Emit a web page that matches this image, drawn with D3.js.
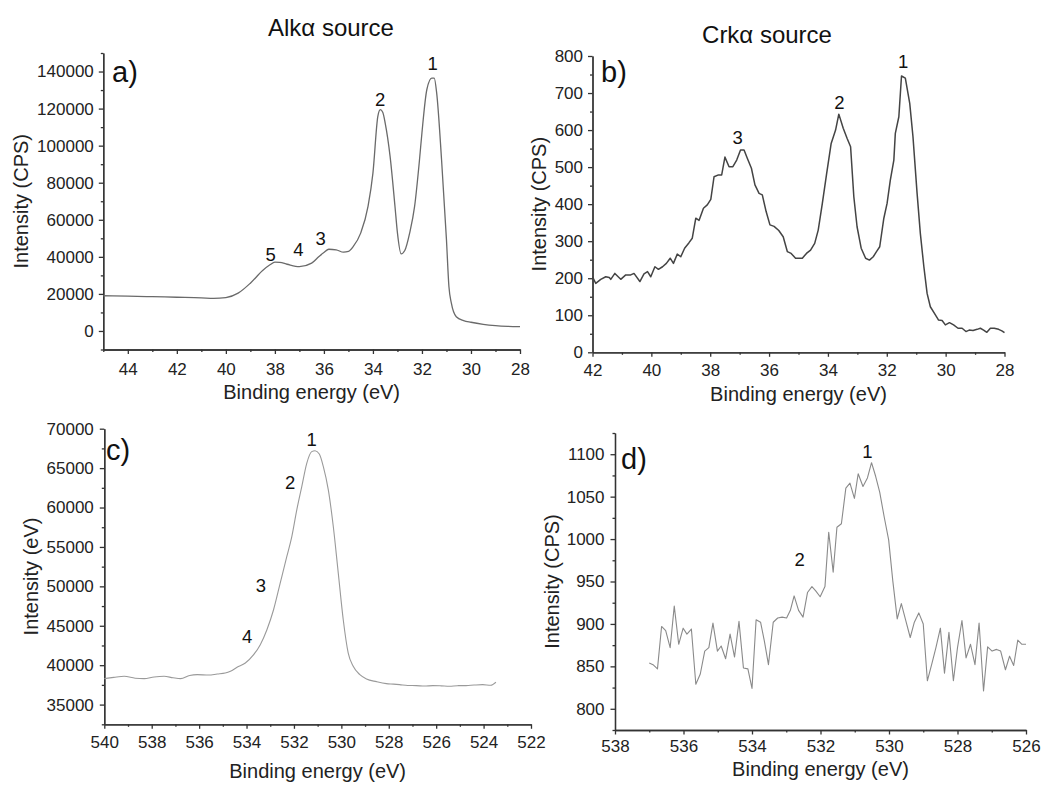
<!DOCTYPE html>
<html>
<head>
<meta charset="utf-8">
<script src="https://cdn.jsdelivr.net/npm/d3@7"></script>
<style>
  body { margin: 0; background: #fff; }
  svg { display: block; font-family: "Liberation Sans", Arial, sans-serif; }
  .axis path, .axis line { stroke: #333; stroke-width: 1.3; }
  .axis text { fill: #222; font-size: 17px; font-family: "Liberation Sans", Arial, sans-serif; }
</style>
</head>
<body>
<div id="chart"></div>
<script>
// Panel a) Alkα source
const aEnergy = [45, 44, 43, 42, 41, 40.5, 40, 39.5, 39, 38.5, 38.2, 38, 37.8, 37.5, 37, 36.5, 36.2, 36, 35.8, 35.5, 35.2, 35, 34.8, 34.5, 34.2, 34, 33.8, 33.7, 33.6, 33.5, 33.3, 33.1, 33, 32.85, 32.7, 32.5, 32.3, 32.1, 32, 31.8, 31.6, 31.5, 31.4, 31.2, 31, 30.9, 30.8, 30.6, 30.3, 30, 29.5, 29, 28.5, 28];
const aIntensity = [19000, 18800, 18500, 18200, 17900, 17600, 18000, 20400, 25800, 32600, 35700, 37100, 37000, 36000, 34700, 36600, 40200, 42300, 44100, 43800, 42500, 42900, 45600, 52800, 67200, 85200, 115800, 119400, 118000, 112200, 94200, 67200, 52900, 41600, 43400, 52900, 67200, 92400, 107000, 130300, 136400, 136400, 128500, 92400, 49200, 24000, 15000, 7700, 5600, 4700, 3600, 2900, 2500, 2300];
const aLabels = ["1", "2", "3", "4", "5"];
const aLabelEnergy = [31.56, 33.71, 36.13, 37.04, 38.17];
const aLabelIntensity = [140700, 121600, 46500, 40500, 37800];

// Panel b) Crkα source
const bEnergy = [42, 41.89, 41.72, 41.55, 41.43, 41.38, 41.24, 41.04, 40.87, 40.7, 40.59, 40.39, 40.25, 40.13, 40.02, 39.88, 39.76, 39.62, 39.49, 39.36, 39.25, 39.12, 39.0, 38.87, 38.72, 38.61, 38.49, 38.38, 38.23, 38.1, 37.98, 37.87, 37.72, 37.61, 37.5, 37.36, 37.23, 37.1, 36.97, 36.85, 36.74, 36.6, 36.48, 36.34, 36.23, 36.1, 35.97, 35.83, 35.67, 35.52, 35.38, 35.25, 35.1, 34.87, 34.73, 34.59, 34.45, 34.33, 34.19, 34.05, 33.89, 33.74, 33.63, 33.48, 33.35, 33.23, 33.12, 33.01, 32.87, 32.72, 32.59, 32.46, 32.35, 32.24, 32.1, 31.99, 31.88, 31.76, 31.71, 31.59, 31.5, 31.37, 31.22, 31.11, 30.97, 30.86, 30.74, 30.63, 30.52, 30.38, 30.24, 30.12, 30.01, 29.87, 29.73, 29.58, 29.44, 29.31, 29.2, 29.07, 28.93, 28.82, 28.71, 28.6, 28.48, 28.35, 28.2, 28.09, 28.0];
const bIntensity = [204, 186, 197, 204, 202, 197, 213, 197, 209, 209, 213, 191, 212, 218, 204, 231, 224, 231, 240, 254, 240, 265, 258, 281, 296, 308, 362, 356, 389, 398, 413, 474, 479, 479, 527, 501, 501, 519, 546, 546, 524, 497, 452, 429, 425, 380, 344, 340, 329, 312, 272, 267, 254, 254, 267, 276, 294, 330, 402, 479, 564, 600, 643, 605, 578, 555, 420, 339, 281, 254, 249, 258, 272, 285, 362, 402, 465, 519, 591, 636, 746, 740, 672, 582, 429, 321, 231, 159, 123, 105, 87, 86, 74, 80, 74, 65, 65, 56, 60, 59, 62, 65, 60, 54, 65, 65, 62, 58, 53];
const bLabels = ["1", "2", "3"];
const bLabelEnergy = [31.44, 33.61, 37.07];
const bLabelIntensity = [767, 657, 563];

// Panel c)
const cEnergy = [540, 539.6, 539.16, 538.7, 538.32, 537.9, 537.48, 537.1, 536.78, 536.4, 536.08, 535.6, 535.24, 534.9, 534.68, 534.4, 534.05, 533.7, 533.42, 533.14, 532.86, 532.58, 532.3, 532.09, 531.88, 531.67, 531.46, 531.25, 531.11, 530.93, 530.76, 530.55, 530.34, 530.13, 529.92, 529.71, 529.5, 529.22, 528.94, 528.52, 528.1, 527.8, 527.54, 527.2, 526.84, 526.5, 526.14, 525.8, 525.44, 525.1, 524.74, 524.4, 524.04, 523.7, 523.48];
const cIntensity = [38290, 38450, 38590, 38350, 38290, 38500, 38590, 38400, 38290, 38700, 38800, 38750, 38880, 39000, 39220, 39730, 40280, 41330, 42600, 44500, 47030, 50410, 53790, 56320, 59700, 62650, 65610, 67090, 67210, 66790, 65190, 62230, 57590, 51680, 45770, 41540, 39850, 38800, 38250, 37910, 37660, 37600, 37530, 37420, 37410, 37350, 37410, 37380, 37320, 37400, 37410, 37480, 37530, 37450, 37830];
const cLabels = ["1", "2", "3", "4"];
const cLabelEnergy = [531.25, 532.16, 533.39, 533.97];
const cLabelIntensity = [67800, 62350, 49240, 42770];

// Panel d)
const dEnergy = [537.0, 536.89, 536.76, 536.64, 536.52, 536.39, 536.27, 536.14, 536.01, 535.9, 535.77, 535.64, 535.51, 535.38, 535.26, 535.14, 535.01, 534.9, 534.77, 534.64, 534.51, 534.38, 534.25, 534.12, 534.0, 533.88, 533.75, 533.64, 533.52, 533.38, 533.25, 533.12, 532.99, 532.88, 532.77, 532.64, 532.51, 532.38, 532.25, 532.14, 532.01, 531.87, 531.76, 531.63, 531.52, 531.39, 531.26, 531.14, 531.01, 530.9, 530.76, 530.63, 530.51, 530.39, 530.27, 530.14, 530.01, 529.89, 529.76, 529.64, 529.51, 529.38, 529.26, 529.13, 529.0, 528.88, 528.75, 528.63, 528.5, 528.38, 528.25, 528.12, 528.0, 527.87, 527.75, 527.62, 527.49, 527.37, 527.24, 527.12, 526.99, 526.86, 526.74, 526.6, 526.48, 526.36, 526.24, 526.12, 526.0];
const dIntensity = [854, 852, 847, 897, 892, 872, 921, 876, 895, 888, 894, 829, 841, 868, 872, 901, 868, 874, 859, 888, 861, 903, 848, 847, 824, 905, 902, 880, 852, 902, 907, 908, 907, 916, 933, 916, 908, 937, 944, 939, 932, 944, 1008, 961, 1014, 1018, 1060, 1066, 1048, 1077, 1062, 1072, 1090, 1074, 1055, 1026, 999, 951, 906, 924, 904, 884, 902, 913, 900, 833, 853, 872, 895, 842, 890, 833, 872, 904, 860, 876, 852, 901, 821, 873, 868, 870, 868, 846, 862, 851, 881, 876, 876];
const dLabels = ["1", "2"];
const dLabelEnergy = [530.63, 532.61];
const dLabelIntensity = [1096, 968];

// Tick values
const aXTicks = [44, 42, 40, 38, 36, 34, 32, 30, 28];
const aYTicks = [0, 20000, 40000, 60000, 80000, 100000, 120000, 140000];
const bXTicks = [42, 40, 38, 36, 34, 32, 30, 28];
const bYTicks = [0, 100, 200, 300, 400, 500, 600, 700, 800];
const cXTicks = [540, 538, 536, 534, 532, 530, 528, 526, 524, 522];
const cYTicks = [35000, 40000, 45000, 50000, 55000, 60000, 65000, 70000];
const dXTicks = [538, 536, 534, 532, 530, 528, 526];
const dYTicks = [800, 850, 900, 950, 1000, 1050, 1100];

const svg = d3.select('#chart')
  .append('svg')
  .attr('width', 1056)
  .attr('height', 785);

svg.append('rect').attr('width', 1056).attr('height', 785).attr('fill', '#fff');

const panels = [
  {
    letter: 'a)', energy: aEnergy, intensity: aIntensity,
    labels: aLabels, labelE: aLabelEnergy, labelI: aLabelIntensity,
    xDomain: [45, 28], yDomain: [-10000, 150000], xTicks: aXTicks, yTicks: aYTicks,
    xMinorStep: 1, yMinorStep: 10000,
    left: 103.3, right: 520, top: 53, bottom: 349.5,
    color: '#6a6a6a', width: 1.3, curve: d3.curveMonotoneX,
    yLabel: 'Intensity (CPS)', yLabelX: 28, xLabelY: 399, xPad: 9, yPad: 5,
    title: 'Alkα source', titleX: 331, titleY: 36, letterX: 112, letterY: 82
  },
  {
    letter: 'b)', energy: bEnergy, intensity: bIntensity,
    labels: bLabels, labelE: bLabelEnergy, labelI: bLabelIntensity,
    xDomain: [42, 28], yDomain: [0, 800], xTicks: bXTicks, yTicks: bYTicks,
    xMinorStep: 1, yMinorStep: 50,
    left: 592.5, right: 1004.5, top: 56, bottom: 352.3,
    color: '#444', width: 1.5, curve: d3.curveLinear,
    yLabel: 'Intensity (CPS)', yLabelX: 546, xLabelY: 401, xPad: 7, yPad: 5,
    title: 'Crkα source', titleX: 767, titleY: 43, letterX: 601, letterY: 82
  },
  {
    letter: 'c)', energy: cEnergy, intensity: cIntensity,
    labels: cLabels, labelE: cLabelEnergy, labelI: cLabelIntensity,
    xDomain: [540, 522], yDomain: [32500, 70000], xTicks: cXTicks, yTicks: cYTicks,
    xMinorStep: 1, yMinorStep: 2500,
    left: 104.3, right: 531, top: 428.7, bottom: 724.3,
    color: '#9a9a9a', width: 1.1, curve: d3.curveMonotoneX,
    yLabel: 'Intensity (eV)', yLabelX: 38, xLabelY: 778, xPad: 7, yPad: 6,
    title: null, letterX: 106, letterY: 460
  },
  {
    letter: 'd)', energy: dEnergy, intensity: dIntensity,
    labels: dLabels, labelE: dLabelEnergy, labelI: dLabelIntensity,
    xDomain: [538, 526], yDomain: [775, 1125], xTicks: dXTicks, yTicks: dYTicks,
    xMinorStep: 1, yMinorStep: 25,
    left: 615, right: 1026, top: 433, bottom: 730,
    color: '#8a8a8a', width: 1.1, curve: d3.curveLinear,
    yLabel: 'Intensity (CPS)', yLabelX: 559, xLabelY: 776, xPad: 5, yPad: 6,
    title: null, letterX: 621, letterY: 469
  }
];

panels.forEach(p => {
  const x = d3.scaleLinear().domain(p.xDomain).range([p.left, p.right]);
  const y = d3.scaleLinear().domain(p.yDomain).range([p.bottom, p.top]);

  // minor ticks
  const xLo = Math.min(...p.xDomain), xHi = Math.max(...p.xDomain);
  const xMinor = d3.range(Math.ceil(xLo), xHi + 0.001, p.xMinorStep).filter(v => !p.xTicks.includes(v));
  const yMinor = d3.range(p.yDomain[0], p.yDomain[1] + 0.001, p.yMinorStep).filter(v => !p.yTicks.includes(v));

  svg.append('g')
    .attr('class', 'axis')
    .attr('transform', `translate(0, ${p.bottom})`)
    .call(d3.axisBottom(x).tickValues(xMinor).tickSize(2.5).tickSizeOuter(0).tickFormat(''));

  svg.append('g')
    .attr('class', 'axis')
    .attr('transform', `translate(${p.left}, 0)`)
    .call(d3.axisLeft(y).tickValues(yMinor).tickSize(2.5).tickSizeOuter(0).tickFormat(''));

  // major ticks
  svg.append('g')
    .attr('class', 'axis')
    .attr('transform', `translate(0, ${p.bottom})`)
    .call(d3.axisBottom(x).tickValues(p.xTicks).tickSize(4.5).tickSizeOuter(0).tickPadding(p.xPad).tickFormat(d3.format('d')));

  svg.append('g')
    .attr('class', 'axis')
    .attr('transform', `translate(${p.left}, 0)`)
    .call(d3.axisLeft(y).tickValues(p.yTicks).tickSize(4.5).tickSizeOuter(0).tickPadding(p.yPad).tickFormat(d3.format('d')));

  // the spectrum
  const line = d3.line()
    .x((d, i) => x(p.energy[i]))
    .y(d => y(d))
    .curve(p.curve);

  svg.append('path')
    .datum(p.intensity)
    .attr('fill', 'none')
    .attr('stroke', p.color)
    .attr('stroke-width', p.width)
    .attr('stroke-linejoin', 'round')
    .attr('d', line);

  // peak numbers
  svg.selectAll(null)
    .data(p.labels)
    .enter()
    .append('text')
    .attr('x', (d, i) => x(p.labelE[i]))
    .attr('y', (d, i) => y(p.labelI[i]))
    .attr('text-anchor', 'middle')
    .attr('font-size', 18.5)
    .attr('fill', '#111')
    .text(d => d);

  // panel letter
  svg.append('text')
    .attr('x', p.letterX)
    .attr('y', p.letterY)
    .attr('font-size', 29)
    .attr('fill', '#111')
    .text(p.letter);

  // axis labels
  svg.append('text')
    .attr('x', (p.left + p.right) / 2)
    .attr('y', p.xLabelY)
    .attr('text-anchor', 'middle')
    .attr('font-size', 20)
    .attr('fill', '#222')
    .text('Binding energy (eV)');

  svg.append('text')
    .attr('transform', `translate(${p.yLabelX}, ${(p.top + p.bottom) / 2}) rotate(-90)`)
    .attr('text-anchor', 'middle')
    .attr('font-size', 20)
    .attr('fill', '#222')
    .text(p.yLabel);

  if (p.title) {
    svg.append('text')
      .attr('x', p.titleX)
      .attr('y', p.titleY)
      .attr('text-anchor', 'middle')
      .attr('font-size', 24)
      .attr('fill', '#111')
      .text(p.title);
  }
});
</script>
</body>
</html>
